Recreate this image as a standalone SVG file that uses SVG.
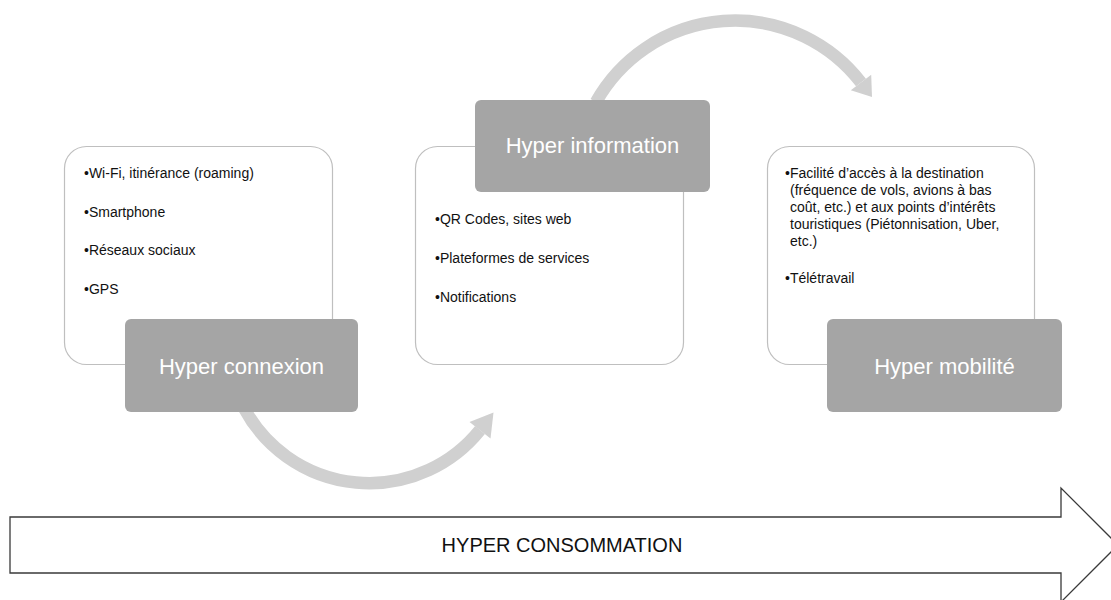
<svg xmlns="http://www.w3.org/2000/svg" width="1111" height="600" viewBox="0 0 1111 600">
<style>
.card{fill:#fff;stroke:#bfbfbf;stroke-width:1.2}
.head{fill:#a5a5a5}
.title{font-family:"Liberation Sans",Arial,sans-serif;font-size:22px;fill:#fff;text-anchor:middle}
.item{font-family:"Liberation Sans",Arial,sans-serif;font-size:14px;fill:#111}
.arc{fill:none;stroke:#d0d0d0;stroke-width:12.5}
.tipfill{fill:#d0d0d0}
.big{fill:#fff;stroke:#3a3a3a;stroke-width:1.3}
.bigtext{font-family:"Liberation Sans",Arial,sans-serif;font-size:20px;fill:#111;text-anchor:middle}
</style>
<rect width="1111" height="600" fill="#fff"/>
<g id="connectors">
<path class="arc" d="M 244 408 A 142 142 0 0 0 480 430"/>
<polygon class="tipfill" points="469.5,422 490.5,438.5 493.5,412.5"/>
<path class="arc" d="M 596 102 A 159.3 159.3 0 0 1 861 82.5"/>
<polygon class="tipfill" points="850.8,90.3 871.2,74.7 872,97"/>
</g>
<g id="node-connexion">
<rect class="card" x="64.5" y="146.5" width="268" height="218" rx="22"/>
<text class="item" x="84" y="178">•Wi-Fi, itinérance (roaming)</text>
<text class="item" x="84" y="217">•Smartphone</text>
<text class="item" x="84" y="255">•Réseaux sociaux</text>
<text class="item" x="84" y="294">•GPS</text>
<rect class="head" x="125" y="319" width="233" height="93" rx="6"/>
<text class="title" x="241.5" y="374">Hyper connexion</text>
</g>
<g id="node-information">
<rect class="card" x="415.5" y="146.5" width="268" height="218" rx="22"/>
<text class="item" x="435" y="224">•QR Codes, sites web</text>
<text class="item" x="435" y="263">•Plateformes de services</text>
<text class="item" x="435" y="302">•Notifications</text>
<rect class="head" x="475" y="100" width="235" height="92" rx="6"/>
<text class="title" x="592.5" y="153">Hyper information</text>
</g>
<g id="node-mobilite">
<rect class="card" x="767.5" y="146.5" width="267" height="218" rx="22"/>
<text class="item" x="785" y="178">•Facilité d’accès à la destination</text>
<text class="item" x="790" y="195">(fréquence de vols, avions à bas</text>
<text class="item" x="790" y="212">coût, etc.) et aux points d’intérêts</text>
<text class="item" x="790" y="229">touristiques (Piétonnisation, Uber,</text>
<text class="item" x="790" y="246">etc.)</text>
<text class="item" x="785" y="283">•Télétravail</text>
<rect class="head" x="827" y="319" width="235" height="93" rx="6"/>
<text class="title" x="944.5" y="374">Hyper mobilité</text>
</g>
<g id="node-consommation">
<polygon class="big" points="10,517 1061,517 1061,488 1118,545 1061,602 1061,573 10,573"/>
<text class="bigtext" x="562" y="552">HYPER CONSOMMATION</text>
</g>
</svg>
